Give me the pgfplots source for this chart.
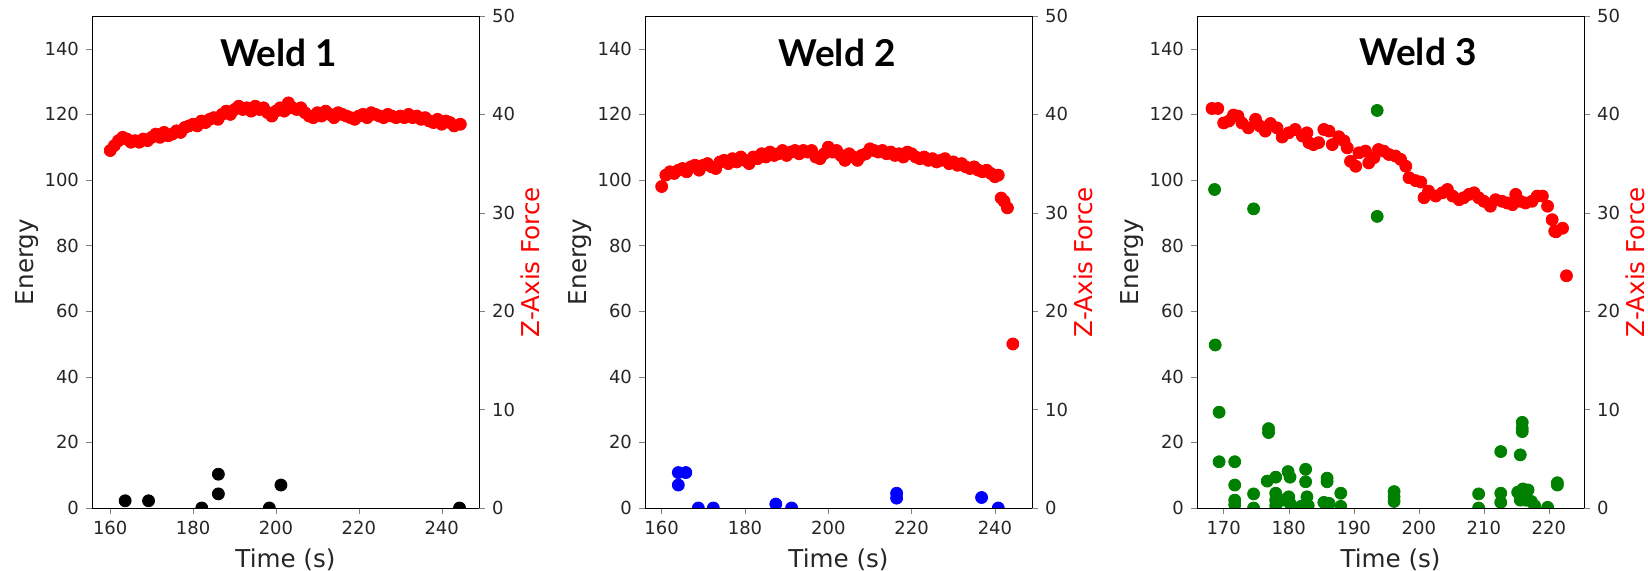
\documentclass[border=0pt]{standalone}
\usepackage{pgfplots}
\pgfplotsset{compat=1.18}
\usepackage{fontspec}
\setmainfont{DejaVu Sans}
\newfontfamily\titlefont{Lato}
\definecolor{mplgreen}{HTML}{008000}
\definecolor{mplblue}{HTML}{0000FF}
\definecolor{mplred}{HTML}{FF0000}
\tikzset{wtitle/.style={font=\titlefont\bfseries\fontsize{18.5}{21}\selectfont}}
\pgfplotsset{
  base/.style={
    width=193.5pt, height=246pt, scale only axis,
    tick align=outside, major tick length=3pt,
    tick label style={font=\fontsize{9}{10}\selectfont, color=black!85},
    label style={font=\fontsize{12.3}{14}\selectfont, color=black!85},
    /pgf/number format/assume math mode=true,
    clip marker paths=true, axis on top,
    every axis plot/.append style={only marks, mark=*, mark size=3pt},
    anchor=south west,
  },
  energy/.style={base, ymin=0, ymax=150, ytick={0,20,...,140},
    tick pos=left, xlabel={Time (s)}, ylabel={Energy},
    ylabel style={at={(axis description cs:-0.168,0.5)}, anchor=center}},
  force/.style={base, ymin=0, ymax=50, ytick={0,10,...,50},
    hide x axis, axis y line*=right, ylabel={Z-Axis Force},
    ylabel style={color=mplred, at={(axis description cs:1.133,0.5)}, anchor=center}},
}
\begin{document}
\begin{tikzpicture}
\useasboundingbox (0pt,0pt) rectangle (824pt,285.5pt);
% ---------------- Weld 1 ----------------
\begin{axis}[energy, at={(46pt,31.5pt)}, xmin=155.6, xmax=249.0, xtick={160,180,...,240}]
\addplot[color=black] table {
x y
163.6 2.2
169.25 2.2
182.1 0
186.1 10.3
186.1 4.3
198.4 0
201.2 7.0
244.3 0
};
\node[wtitle] at (rel axis cs:0.482,0.926) {Weld 1};
\end{axis}
\begin{axis}[force, at={(46pt,31.5pt)}, xmin=155.6, xmax=249.0]
\addplot[color=mplred] table {
x y
160 36.33
161 36.83
162 37.33
163 37.67
164 37.5
165 37.17
166 37.33
167 37.17
168 37.5
169 37.33
170 37.67
171 38.0
172 37.67
173 38.17
174 37.83
175 38.0
176 38.33
177 38.17
178 38.67
179 38.83
180 39.0
181 38.83
182 39.33
183 39.17
184 39.5
185 39.67
186 39.5
187 40.0
188 40.33
189 40.0
190 40.5
191 40.83
192 40.5
193 40.67
194 40.33
195 40.83
196 40.5
197 40.67
198 40.17
199 39.83
200 40.33
201 40.67
202 40.33
203 41.17
204 40.67
205 40.5
206 40.67
207 40.17
208 39.83
209 39.67
210 40.17
211 39.83
212 40.33
213 40.0
214 39.67
215 40.17
216 40.0
217 39.83
218 39.67
219 39.5
220 39.83
221 40.0
222 39.67
223 40.17
224 40.0
225 39.83
226 39.67
227 40.0
228 39.83
229 39.67
230 39.83
231 39.67
232 40.0
233 39.67
234 39.83
235 39.5
236 39.67
237 39.33
238 39.17
239 39.5
240 39.0
241 39.33
242 39.17
243 38.83
244.5 39.0
};
\end{axis}
% ---------------- Weld 2 ----------------
\begin{axis}[energy, at={(322.5pt,31.5pt)}, xmin=156.0, xmax=248.9, xtick={160,180,...,240}]
\addplot[color=mplblue] table {
x y
164.0 10.8
165.8 10.8
164.0 7.0
168.8 0
172.4 0
187.4 1.2
191.2 0
216.4 4.5
216.4 3.0
236.8 3.2
240.8 0
};
\node[wtitle] at (rel axis cs:0.496,0.926) {Weld 2};
\end{axis}
\begin{axis}[force, at={(322.5pt,31.5pt)}, xmin=156.0, xmax=248.9]
\addplot[color=mplred] table {
x y
160.0 32.67
161 33.83
162 34.17
163 34.0
164 34.33
165 34.5
166 34.17
167 34.67
168 34.83
169 34.33
170 34.83
171 35.0
172 34.67
173 34.5
174 35.17
175 35.33
176 35.0
177 35.5
178 35.17
179 35.67
180 35.33
181 35.0
182 35.67
183 35.5
184 36.0
185 35.67
186 36.17
187 35.83
188 36.0
189 36.33
190 35.83
191 36.17
192 36.33
193 36.0
194 36.33
195 36.17
196 36.33
197 35.67
198 35.5
199 36.0
200 36.67
201 36.17
202 36.33
203 35.83
204 35.33
205 36.0
206 35.67
207 35.33
208 35.83
209 36.0
210 36.5
211 36.33
212 36.17
213 36.33
214 36.0
215 36.17
216 35.83
217 36.0
218 35.67
219 36.17
220 36.0
221 35.67
222 35.5
223 35.67
224 35.33
225 35.5
226 35.17
227 35.33
228 35.5
229 35.0
230 35.17
231 34.83
232 35.0
233 34.67
234 34.5
235 34.67
236 34.33
237 34.17
238 34.33
239 34.0
240 33.67
240.8 33.83
241.5 31.5
242.2 31.17
243.0 30.5
244.3 16.67
};
\end{axis}
% ---------------- Weld 3 ----------------
\begin{axis}[energy, at={(598.5pt,31.5pt)}, xmin=165.9, xmax=225.4, xtick={170,180,...,220}]
\addplot[color=mplgreen] table {
x y
168.6 97.1
168.7 49.7
169.3 29.2
169.3 14.1
171.7 14.1
171.7 7.0
171.7 2.4
171.7 1.0
174.6 91.2
174.6 4.3
174.6 0
176.9 24.2
176.9 23.0
176.7 8.2
178.0 9.4
178.0 4.5
178.0 2.4
178.0 0.7
179.0 2.4
179.9 11.1
180.2 9.4
180.0 3.4
180.2 1.4
182.6 11.8
182.6 8.0
182.8 3.4
183.0 0.7
181.9 0.5
185.9 9.1
185.9 8.0
185.4 1.7
186.2 1.4
188.0 4.5
188.0 0.5
193.6 121.2
193.6 88.9
196.2 5.0
196.2 3.4
196.2 2.0
209.2 4.3
209.2 0
212.6 17.2
212.6 4.5
212.6 1.7
215.6 16.2
215.9 26.1
215.9 24.3
215.9 23.3
215.2 4.8
216.0 5.8
216.8 5.5
215.6 2.4
216.4 2.4
217.3 2.0
217.8 0.7
219.8 0.2
221.3 7.7
221.3 7.0
};
\node[wtitle] at (rel axis cs:0.571,0.926) {Weld 3};
\end{axis}
\begin{axis}[force, at={(598.5pt,31.5pt)}, xmin=165.9, xmax=225.4]
\addplot[color=mplred] table {
x y
168.2 40.6
169.1 40.6
170.0 39.13
170.8 39.33
171.5 39.93
172.2 39.83
172.8 39.13
173.8 38.63
174.9 39.5
175.6 38.8
176.4 38.3
177.2 39.07
178.2 38.63
179.0 37.7
180.0 38.13
181.0 38.47
182.1 37.8
182.8 38.13
183.1 37.13
183.8 36.93
184.6 37.13
185.4 38.47
186.2 38.3
186.7 36.93
187.7 37.73
188.5 37.3
189.0 36.6
189.5 35.23
190.3 34.73
190.8 36.1
191.8 36.27
192.3 35.07
193.1 35.6
193.8 36.43
194.6 36.27
195.4 35.93
196.4 35.77
197.2 35.43
198.0 34.73
198.5 33.57
199.5 33.27
200.3 33.13
200.8 31.53
201.5 32.2
202.6 31.7
203.6 32.03
204.4 32.37
205.2 31.7
206.2 31.33
206.9 31.53
207.7 31.87
208.5 32.03
209.2 31.53
210.0 31.17
211.0 30.67
211.8 31.33
212.8 31.17
213.6 31.0
214.4 30.83
214.9 31.87
215.6 31.17
216.4 31.0
217.4 31.17
218.2 31.7
219.0 31.7
219.8 30.67
220.5 29.3
220.9 28.13
221.1 28.07
222.1 28.43
222.7 23.6
};
\end{axis}
\end{tikzpicture}
\end{document}
